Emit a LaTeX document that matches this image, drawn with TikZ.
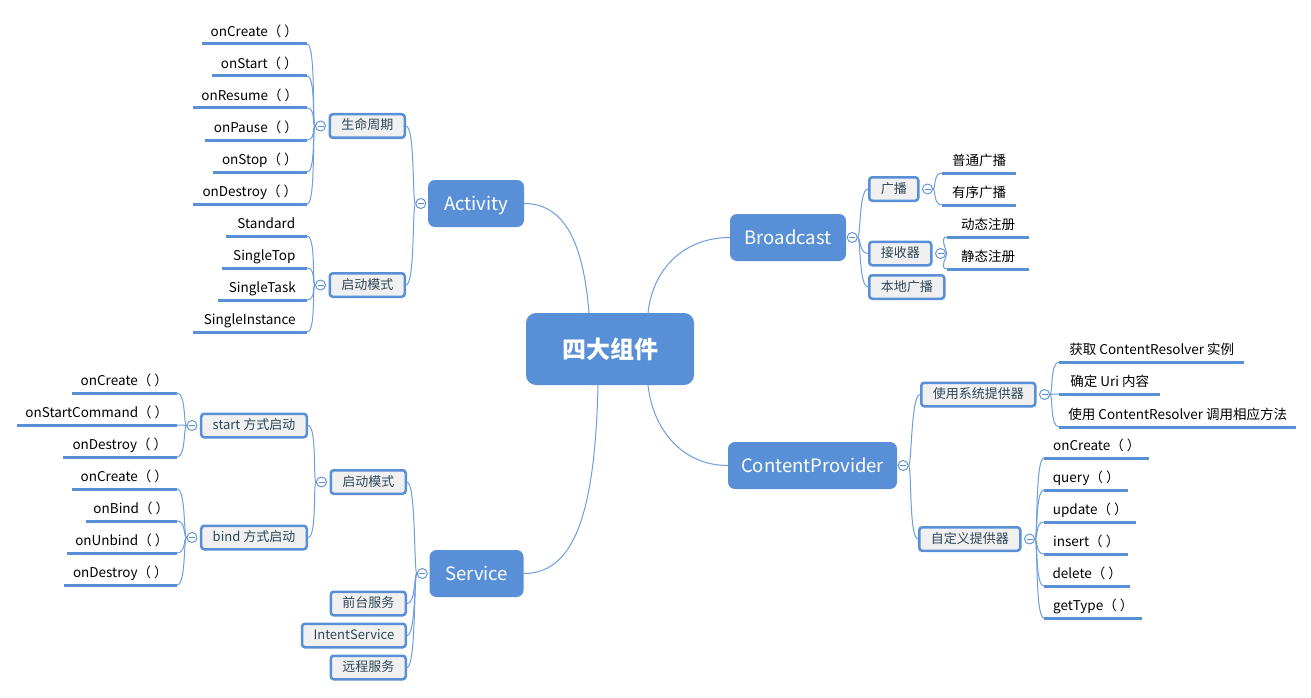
\documentclass[tikz,border=0pt]{standalone}
\usepackage{fontspec}
\setmainfont{Noto Sans CJK SC}
\usetikzlibrary{calc,backgrounds}
\definecolor{mblue}{HTML}{588FD6}
\definecolor{lblue}{HTML}{6E9EDB}
\definecolor{subfill}{HTML}{F0F0F0}
\definecolor{subtext}{HTML}{2E4656}
\newcommand\leaffont{\fontsize{13.5}{16}\selectfont}
\newcommand\subfont{\fontsize{13}{15}\selectfont}
\begin{document}
\begin{tikzpicture}[x=1pt,y=-1pt,
  rootbox/.style={fill=mblue, rounded corners=10pt, text=white, font=\fontsize{24}{28}\selectfont\bfseries, minimum width=168pt, minimum height=72pt, inner sep=0pt},
  mainbox/.style={fill=mblue, rounded corners=7pt, text=white, font=\fontsize{18.5}{22}\selectfont, minimum height=47pt, inner sep=0pt, text height=14pt, text depth=0pt},
  subbox/.style={draw=mblue, line width=2.5pt, fill=subfill, rounded corners=3pt, text=subtext, font=\subfont, minimum height=23.5pt, inner xsep=11.5pt, inner ysep=0pt, text height=10pt, text depth=2pt},
  tog/.style={circle, draw=mblue, line width=0.9pt, fill=white, minimum size=10pt, inner sep=0pt, path picture={\draw[mblue, line width=0.9pt] ($(path picture bounding box.center)+(-3,0)$) -- ($(path picture bounding box.center)+(3,0)$);}},
  conn/.style={draw=lblue, line width=1pt},
  uline/.style={draw=mblue, line width=3pt},
  leaf/.style={font=\leaffont, text=black, inner xsep=0pt, inner ysep=4pt, text height=10pt, text depth=3pt, minimum width=#1,
    append after command={\pgfextra{\draw[uline] (\tikzlastnode.south west) -- (\tikzlastnode.south east);}}},
  lleaf/.style={leaf=#1, anchor=south east},
  rleaf/.style={leaf=#1, anchor=south west},
  tol/.style={to path={.. controls +(-3,0) and +(9,0) .. (\tikztotarget)}},
  tor/.style={to path={.. controls +(3,0) and +(-9,0) .. (\tikztotarget)}}
]
\useasboundingbox (0,0) rectangle (1311,698);

% root and main nodes
\node[rootbox] (root) at (610,349) {四大组件};
\node[mainbox, minimum width=96pt] (act) at (476,203.5) {Activity};
\node[mainbox, minimum width=116pt] (bc) at (788,237.5) {Broadcast};
\node[mainbox, minimum width=169pt] (cp) at (812.5,465.5) {ContentProvider};
\node[mainbox, minimum width=94pt] (svc) at (476.5,573.5) {Service};

% sub nodes
\node[subbox, anchor=east] (life) at (406,126) {生命周期};
\node[subbox, anchor=east] (mode) at (406,285) {启动模式};
\node[subbox, anchor=west] (bcast) at (868,189) {广播};
\node[subbox, anchor=west] (recv) at (868,253.5) {接收器};
\node[subbox, anchor=west] (local) at (868,287) {本地广播};
\node[subbox, anchor=west] (sys) at (920,394.5) {使用系统提供器};
\node[subbox, anchor=west] (cus) at (918,539) {自定义提供器};
\node[subbox, anchor=east] (smode) at (407,482) {启动模式};
\node[subbox, anchor=east] (fg) at (407,603.5) {前台服务};
\node[subbox, anchor=east] (intent) at (407,635.5) {IntentService};
\node[subbox, anchor=east] (remote) at (407,667.5) {远程服务};
\node[subbox, anchor=east] (start) at (308,425.5) {start 方式启动};
\node[subbox, anchor=east] (bind) at (308,537.5) {bind 方式启动};

% toggles
\node[tog] (tAct) at ($(act.west)+(-7,0)$) {};
\node[tog] (tBc) at ($(bc.east)+(6,0)$) {};
\node[tog] (tCp) at ($(cp.east)+(6,0)$) {};
\node[tog] (tSvc) at ($(svc.west)+(-7,0)$) {};
\node[tog] (tLife) at ($(life.west)+(-8,0)$) {};
\node[tog] (tMode) at ($(mode.west)+(-8,0)$) {};
\node[tog] (tBcast) at ($(bcast.east)+(8,0)$) {};
\node[tog] (tRecv) at ($(recv.east)+(8,0)$) {};
\node[tog] (tSys) at ($(sys.east)+(8,0)$) {};
\node[tog] (tCus) at ($(cus.east)+(8,0)$) {};
\node[tog] (tSMode) at ($(smode.west)+(-8,0)$) {};
\node[tog] (tStart) at ($(start.west)+(-8,0)$) {};
\node[tog] (tBind) at ($(bind.west)+(-8,0)$) {};

% leaves: Activity lifecycle
\node[lleaf=105] (a1) at (307,44) {onCreate（ ）};
\node[lleaf=95] (a2) at (307,76) {onStart（ ）};
\node[lleaf=114] (a3) at (307,108) {onResume（ ）};
\node[lleaf=102] (a4) at (307,140) {onPause（ ）};
\node[lleaf=94] (a5) at (307,172) {onStop（ ）};
\node[lleaf=114] (a6) at (307,204) {onDestroy（ ）};
% Activity launch modes
\node[lleaf=81] (m1) at (307,236) {Standard};
\node[lleaf=85] (m2) at (307,268) {SingleTop};
\node[lleaf=89] (m3) at (307,300) {SingleTask};
\node[lleaf=114] (m4) at (307,332) {SingleInstance};
% Service start
\node[lleaf=105] (s1) at (177,393) {onCreate（ ）};
\node[lleaf=160] (s2) at (177,425) {onStartCommand（ ）};
\node[lleaf=114] (s3) at (177,457) {onDestroy（ ）};
% Service bind
\node[lleaf=105] (b1) at (177,489) {onCreate（ ）};
\node[lleaf=91] (b2) at (177,521) {onBind（ ）};
\node[lleaf=110] (b3) at (177,553) {onUnbind（ ）};
\node[lleaf=113] (b4) at (177,585) {onDestroy（ ）};
% Broadcast
\node[rleaf=74] (g1) at (942,173) {普通广播};
\node[rleaf=74] (g2) at (942,205) {有序广播};
\node[rleaf=82] (r1) at (947,237) {动态注册};
\node[rleaf=82] (r2) at (947,269) {静态注册};
% ContentProvider system
\node[rleaf=185] (p1) at (1059,362) {获取 ContentResolver 实例};
\node[rleaf=101] (p2) at (1059,394) {确定 Uri 内容};
\node[rleaf=237] (p3) at (1059,427) {使用 ContentResolver 调用相应方法};
% ContentProvider custom
\node[rleaf=105] (c1) at (1044,458) {onCreate（ ）};
\node[rleaf=84] (c2) at (1044,490) {query（ ）};
\node[rleaf=92] (c3) at (1044,522) {update（ ）};
\node[rleaf=84] (c4) at (1044,554) {insert（ ）};
\node[rleaf=86] (c5) at (1044,586) {delete（ ）};
\node[rleaf=98] (c6) at (1044,618) {getType（ ）};

\begin{pgfonlayer}{background}
\fill[white] (0,0) rectangle (1311,698);
% main branches
\draw[conn] (act.east) .. controls +(45,0) and +(-5,-60) .. ($(root.north)+(-21,0)$);
\draw[conn] ($(root.north)+(38,0)$) .. controls +(5,-45) and +(-45,0) .. (bc.west);
\draw[conn] ($(root.south)+(38,0)$) .. controls +(5,45) and +(-45,0) .. (cp.west);
\draw[conn] ($(root.south)+(-12,0)$) .. controls +(-3,130) and +(50,0) .. (svc.east);
% left side
\foreach \n in {life,mode} \draw[conn] (tAct.west) to[tol] (\n.east);
\foreach \n in {smode,fg,intent,remote} \draw[conn] (tSvc.west) to[tol] (\n.east);
\foreach \n in {start,bind} \draw[conn] (tSMode.west) to[tol] (\n.east);
\foreach \n in {a1,a2,a3,a4,a5,a6} \draw[conn] (tLife.west) to[tol] (\n.south east);
\foreach \n in {m1,m2,m3,m4} \draw[conn] (tMode.west) to[tol] (\n.south east);
\foreach \n in {s1,s2,s3} \draw[conn] (tStart.west) to[tol] (\n.south east);
\foreach \n in {b1,b2,b3,b4} \draw[conn] (tBind.west) to[tol] (\n.south east);
% right side
\foreach \n in {bcast,recv,local} \draw[conn] (tBc.east) to[tor] (\n.west);
\foreach \n in {sys,cus} \draw[conn] (tCp.east) to[tor] (\n.west);
\foreach \n in {g1,g2} \draw[conn] (tBcast.east) to[tor] (\n.south west);
\foreach \n in {r1,r2} \draw[conn] (tRecv.east) to[tor] (\n.south west);
\foreach \n in {p1,p2,p3} \draw[conn] (tSys.east) to[tor] (\n.south west);
\foreach \n in {c1,c2,c3,c4,c5,c6} \draw[conn] (tCus.east) to[tor] (\n.south west);
\end{pgfonlayer}
\end{tikzpicture}
\end{document}
